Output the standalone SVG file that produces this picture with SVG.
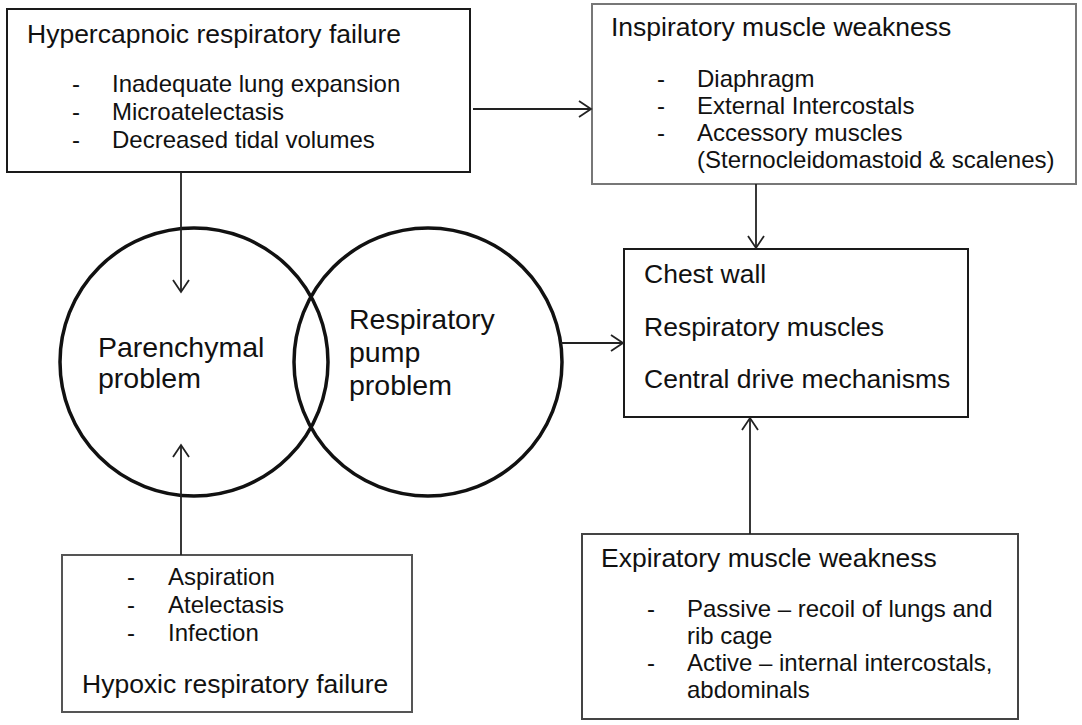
<svg xmlns="http://www.w3.org/2000/svg" width="1082" height="725" viewBox="0 0 1082 725">
<defs>
<style>
text{font-family:"Liberation Sans",Arial,sans-serif;fill:#111}
.t{font-size:26.5px}
.b{font-size:24px}
.c{font-size:28.5px}
.box{fill:#fff;stroke-width:2}
.circ{fill:none;stroke:#111;stroke-width:3.5}
.con{stroke:#222;stroke-width:1.8;fill:none}
</style>
<marker id="arr" markerUnits="userSpaceOnUse" viewBox="-14 -10 16 20" refX="0" refY="0" markerWidth="16" markerHeight="20" orient="auto">
<path d="M-12,-8 L0,0 L-12,8" fill="none" stroke="#222" stroke-width="1.8"/>
</marker>
</defs>
<rect width="1082" height="725" fill="#fff"/>

<g id="hypercapnoic">
<rect class="box" x="7" y="9" width="463" height="163" stroke="#1a1a1a"/>
<text class="t" x="27" y="43">Hypercapnoic respiratory failure</text>
<text class="b" x="72" y="92">-</text><text class="b" x="112" y="92">Inadequate lung expansion</text>
<text class="b" x="72" y="120">-</text><text class="b" x="112" y="120">Microatelectasis</text>
<text class="b" x="72" y="148">-</text><text class="b" x="112" y="148">Decreased tidal volumes</text>
</g>

<g id="inspiratory">
<rect class="box" x="592" y="4" width="484" height="180" stroke="#777"/>
<text class="t" x="611" y="36">Inspiratory muscle weakness</text>
<text class="b" x="657" y="87">-</text><text class="b" x="697" y="87">Diaphragm</text>
<text class="b" x="657" y="114">-</text><text class="b" x="697" y="114">External Intercostals</text>
<text class="b" x="657" y="141">-</text><text class="b" x="697" y="141">Accessory muscles</text>
<text class="b" x="697" y="168">(Sternocleidomastoid &amp; scalenes)</text>
</g>

<g id="parenchymal">
<circle class="circ" cx="194" cy="362" r="134"/>
<text class="c" x="98" y="357">Parenchymal</text>
<text class="c" x="98" y="388">problem</text>
</g>

<g id="pump">
<circle class="circ" cx="428" cy="362" r="134"/>
<text class="c" x="349" y="329">Respiratory</text>
<text class="c" x="349" y="362">pump</text>
<text class="c" x="349" y="395">problem</text>
</g>

<g id="chestwall">
<rect class="box" x="624" y="249" width="344" height="168" stroke="#1a1a1a"/>
<text class="t" x="644" y="283">Chest wall</text>
<text class="t" x="644" y="336">Respiratory muscles</text>
<text class="t" x="644" y="388">Central drive mechanisms</text>
</g>

<g id="hypoxic">
<rect class="box" x="62" y="555" width="350" height="157" stroke="#555"/>
<text class="b" x="127" y="585">-</text><text class="b" x="168" y="585">Aspiration</text>
<text class="b" x="127" y="613">-</text><text class="b" x="168" y="613">Atelectasis</text>
<text class="b" x="127" y="641">-</text><text class="b" x="168" y="641">Infection</text>
<text class="t" x="82" y="693">Hypoxic respiratory failure</text>
</g>

<g id="expiratory">
<rect class="box" x="582" y="534" width="436" height="185" stroke="#444"/>
<text class="t" x="601" y="567">Expiratory muscle weakness</text>
<text class="b" x="647" y="617">-</text><text class="b" x="687" y="617">Passive – recoil of lungs and</text>
<text class="b" x="687" y="644">rib cage</text>
<text class="b" x="647" y="671">-</text><text class="b" x="687" y="671">Active – internal intercostals,</text>
<text class="b" x="687" y="698">abdominals</text>
</g>

<g id="connectors">
<line class="con" x1="473" y1="109" x2="591" y2="109" marker-end="url(#arr)"/>
<line class="con" x1="181" y1="172" x2="181" y2="292" marker-end="url(#arr)"/>
<line class="con" x1="181" y1="555" x2="181" y2="445" marker-end="url(#arr)"/>
<line class="con" x1="756" y1="184" x2="756" y2="248" marker-end="url(#arr)"/>
<line class="con" x1="561" y1="343" x2="623" y2="343" marker-end="url(#arr)"/>
<line class="con" x1="750" y1="534" x2="750" y2="418" marker-end="url(#arr)"/>
</g>
</svg>
